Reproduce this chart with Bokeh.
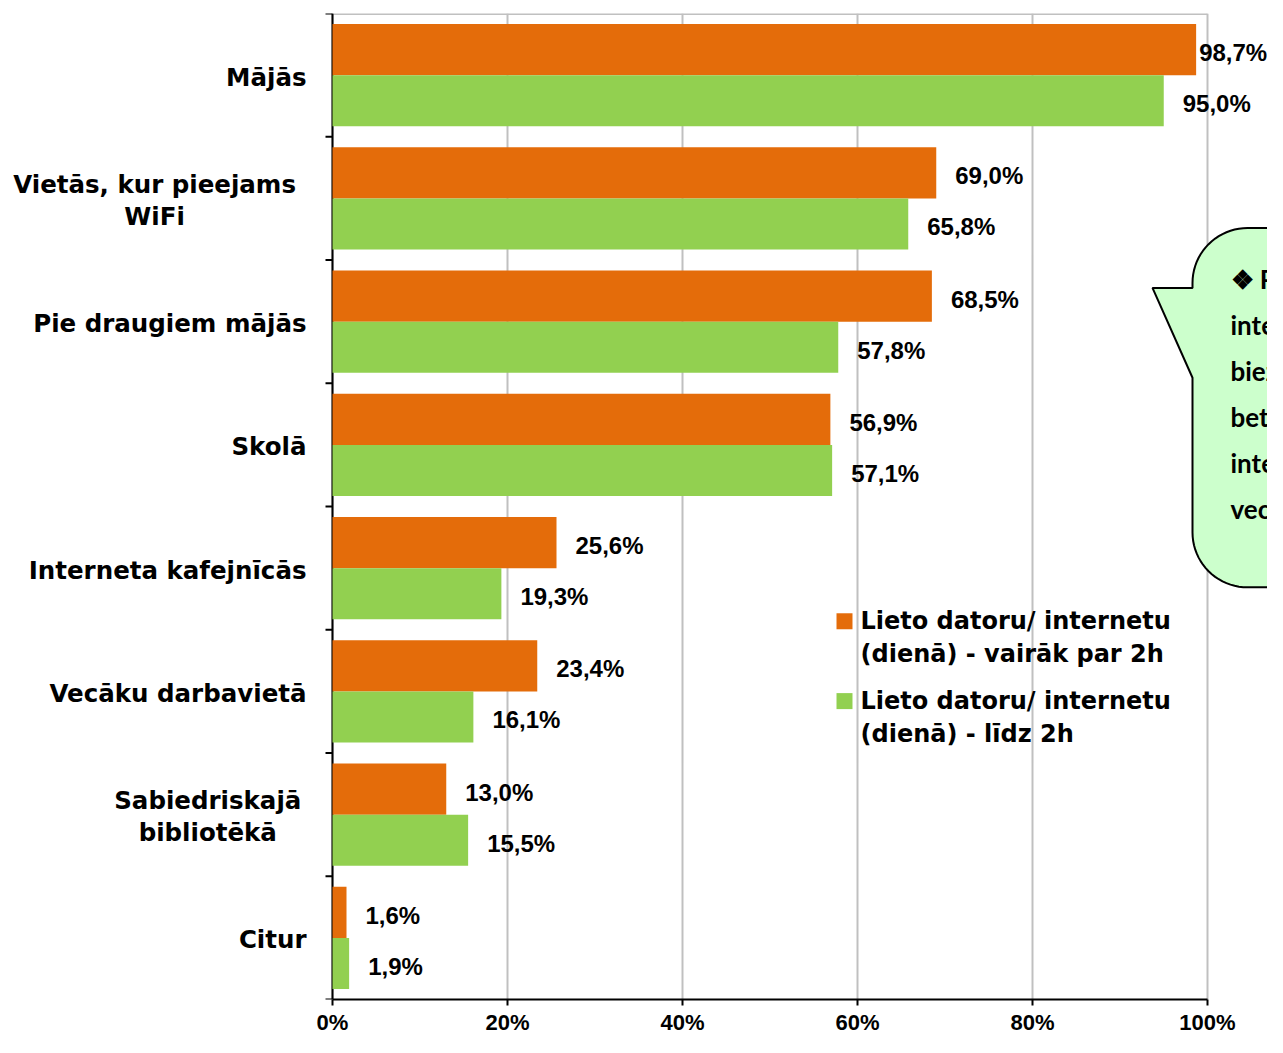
import math
from bokeh.plotting import figure
from bokeh.models import Range1d, FixedTicker
from bokeh.core.properties import value
from bokeh.embed import file_html
from bokeh.resources import INLINE

# ---------------- data ----------------
categories = [
    "Mājās",
    "Vietās, kur pieejams\nWiFi",
    "Pie draugiem mājās",
    "Skolā",
    "Interneta kafejnīcās",
    "Vecāku darbavietā",
    "Sabiedriskajā\nbibliotēkā",
    "Citur",
]
over_2h = [98.7, 69.0, 68.5, 56.9, 25.6, 23.4, 13.0, 1.6]
upto_2h = [95.0, 65.8, 57.8, 57.1, 19.3, 16.1, 15.5, 1.9]
series_names = [
    "Lieto datoru/ internetu\n(dienā) - vairāk par 2h",
    "Lieto datoru/ internetu\n(dienā) - līdz 2h",
]
x_ticks = [0, 20, 40, 60, 80, 100]
x_tick_labels = ["0%", "20%", "40%", "60%", "80%", "100%"]
callout_lines = ["❖ Pusaudži", "internetu", "biežāk", "bet arī", "internetu", "vecāku"]

# ---------------- style ----------------
ORANGE = "#E46C0A"
GREEN = "#92D050"
GRID = "#C0C0C0"

W, H = 1267, 1037
AXIS_X, TOP, BOTTOM = 332, 13, 36   # pixel position of the value axis origin
PXX = 8.75                           # px per percent
n = len(categories)
PXY = (H - TOP - BOTTOM) / n         # px per category

p = figure(width=W, height=H, output_backend="svg", toolbar_location=None,
           x_range=Range1d(-AXIS_X / PXX, (W - AXIS_X) / PXX), y_range=Range1d(0, n),
           min_border_left=0, min_border_right=0,
           min_border_top=TOP, min_border_bottom=BOTTOM)
p.outline_line_color = None
p.background_fill_color = "white"
p.border_fill_color = "white"

# grid
p.ygrid.visible = False
p.xgrid.ticker = FixedTicker(ticks=x_ticks, minor_ticks=[])
p.xgrid.grid_line_color = GRID
p.xgrid.grid_line_width = 2

# bottom axis
xa = p.xaxis[0]
xa.ticker = FixedTicker(ticks=x_ticks, minor_ticks=[])
xa.major_label_overrides = {t: l for t, l in zip(x_ticks, x_tick_labels)}
xa.bounds = (0, 100)
xa.axis_line_color = "black"
xa.axis_line_width = 2
xa.major_tick_in = 0
xa.major_tick_out = 6
xa.major_tick_line_width = 2
xa.minor_tick_line_color = None
xa.major_label_text_font = "Liberation Sans"
xa.major_label_text_font_style = "bold"
xa.major_label_text_font_size = "22px"
xa.major_label_text_color = "black"
xa.major_label_standoff = 4

p.yaxis.visible = False

def dx(px):
    return (px - AXIS_X) / PXX

def dy(py):
    return n - (py - TOP) / PXY

# top border line
p.line(x=[0, 100], y=[n, n], line_color=GRID, line_width=3)

# category axis: line, boundary ticks, labels
bounds_y = list(range(n + 1))
p.segment(x0=[0], y0=[0], x1=[0], y1=[n], line_color="black", line_width=2)
p.segment(x0=[-7 / PXX] * len(bounds_y), y0=bounds_y, x1=[0] * len(bounds_y), y1=bounds_y,
          line_color="black", line_width=2)

centers = [n - 0.5 - i for i in range(n)]
CAT_FONT = 24.5
LINE_GAP = 32
lab_x, lab_y, lab_t, lab_a = [], [], [], []
for c, lab in zip(centers, categories):
    lines = lab.split("\n")
    if len(lines) == 1:
        lab_x.append(dx(306)); lab_y.append(c); lab_t.append(lab); lab_a.append("right")
    else:
        widest = max(len(s) for s in lines) * 0.62 * CAT_FONT
        cx = 306 - widest / 2
        for j, s in enumerate(lines):
            off = (j - (len(lines) - 1) / 2) * LINE_GAP
            lab_x.append(dx(cx)); lab_y.append(c - off / PXY); lab_t.append(s); lab_a.append("center")
p.text(x=lab_x, y=lab_y, text=lab_t, text_align=lab_a, text_baseline="middle",
       y_offset=2, text_font=value("DejaVu Sans"), text_font_style="bold",
       text_font_size=f"{CAT_FONT}px", text_color="black")

# bars
BH = 0.415
y_or = [c + BH / 2 for c in centers]
y_gr = [c - BH / 2 for c in centers]
p.hbar(y=y_or, left=0, right=over_2h, height=BH, fill_color=ORANGE, line_color=None)
p.hbar(y=y_gr, left=0, right=upto_2h, height=BH, fill_color=GREEN, line_color=None)

# data labels
def fmt(v):
    return f"{v:.1f}%".replace(".", ",")

for vals, ys in ((over_2h, y_or), (upto_2h, y_gr)):
    offs = [3 if v > 97 else 19 for v in vals]
    p.text(x=vals, y=ys, text=[fmt(v) for v in vals], x_offset=offs, y_offset=3,
           text_align="left", text_baseline="middle",
           text_font=value("Liberation Sans"), text_font_style="bold",
           text_font_size="24px", text_color="black")

# legend (manual)
for k, (name, col) in enumerate(zip(series_names, [ORANGE, GREEN])):
    base = 622 + 80 * k
    p.scatter(x=[dx(844)], y=[dy(base)], marker="square", size=16,
              fill_color=col, line_color=None)
    lines = name.split("\n")
    p.text(x=[dx(860)] * len(lines), y=[dy(base + 33 * j) for j in range(len(lines))],
           text=lines, text_align="left", text_baseline="middle",
           text_font=value("DejaVu Sans"), text_font_style="bold",
           text_font_size="24px", text_color="black")

# callout bubble (partly outside, clipped)
L, T, B, R, r = 1192, 228, 588, 1500, 55
pts = []
for k in range(0, 21):
    th = math.pi + (math.pi / 2) * k / 20
    pts.append((L + r + r * math.cos(th), T + r + r * math.sin(th)))
pts += [(R, T), (R, B)]
for k in range(0, 21):
    th = math.pi / 2 + (math.pi / 2) * k / 20
    pts.append((L + r + r * math.cos(th), B - r + r * math.sin(th)))
pts += [(L, 378), (1152, 288), (L, 288)]
p.patch(x=[dx(a) for a, b in pts], y=[dy(b) for a, b in pts],
        fill_color="#CCFFCC", line_color="black", line_width=2)

p.text(x=[dx(1230)] * len(callout_lines),
       y=[dy(279 + 46.2 * j) for j in range(len(callout_lines))],
       text=callout_lines, text_align="left", text_baseline="middle",
       text_font=value("Lato"), text_font_style="bold",
       text_font_size="26px", text_color="black")

open("out.html", "w").write(file_html(p, INLINE))
